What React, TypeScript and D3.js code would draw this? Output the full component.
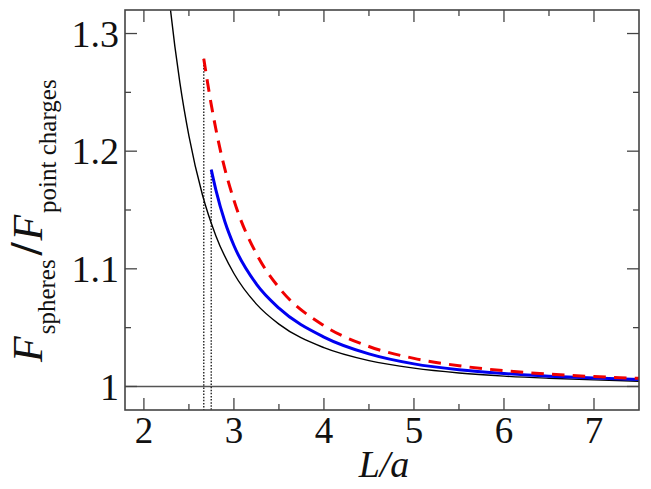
import React from 'react';
import * as d3 from 'd3';

// curves (L/a -> F_spheres / F_point charges)
const blackL = [2.25, 2.297, 2.4, 2.5, 2.65, 2.8, 3.0, 3.25, 3.5, 4.0, 4.5, 5.0, 5.5, 6.0, 6.5, 7.0, 7.5];
const blackRatio = [1.354, 1.319, 1.258, 1.213, 1.163, 1.128, 1.096, 1.070, 1.053, 1.033, 1.022, 1.0156, 1.0115, 1.0088, 1.0070, 1.0056, 1.0044];

const blueL = [2.748, 2.8, 2.9, 3.0, 3.25, 3.5, 4.0, 4.5, 5.0, 5.5, 6.0, 6.5, 7.0, 7.5];
const blueRatio = [1.1843, 1.1669, 1.14, 1.1198, 1.087, 1.0666, 1.042, 1.0277, 1.0192, 1.0142, 1.011, 1.0087, 1.0071, 1.0059];

const redL = [2.665, 2.75, 2.85, 3.0, 3.25, 3.5, 4.0, 4.5, 5.0, 5.5, 6.0, 6.5, 7.0, 7.5];
const redRatio = [1.2785, 1.2388, 1.2005, 1.1583, 1.1127, 1.0841, 1.0517, 1.034, 1.0239, 1.0176, 1.0134, 1.0105, 1.0084, 1.0069];

const xTicks = [2, 3, 4, 5, 6, 7];
const xMinor = [2.5, 3.5, 4.5, 5.5, 6.5];
const yTicks = [1, 1.1, 1.2, 1.3];
const yMinor = [1.05, 1.15, 1.25];

const W = 651;
const H = 489;
const left = 125, right = 639, top = 10, bottom = 410;
const serif = { fontFamily: 'Liberation Serif, Times New Roman, serif' };

const App = () => {
  const x = d3.scaleLinear().domain([1.79, 7.5]).range([left, right]);
  const y = d3.scaleLinear().domain([0.98, 1.32]).range([bottom, top]);

  const line = (xs: number[], ys: number[]) =>
    d3.line<number>()
      .x((d, i) => x(xs[i]))
      .y((d) => y(d))
      .curve(d3.curveMonotoneX)(ys) || '';

  const frame = '#444';
  const majorLen = 12, minorLen = 6;

  return (
    <svg width={W} height={H} style={{ position: 'absolute', left: 0, top: 0, background: '#fff' }}>
      <defs>
        <clipPath id="plotClip">
          <rect x={left} y={top} width={right - left} height={bottom - top} />
        </clipPath>
      </defs>

      {/* y = 1 reference line */}
      <line x1={left} x2={right} y1={y(1)} y2={y(1)} stroke="#555" strokeWidth={1.5} />

      {/* dotted markers at the start of the sphere curves */}
      <line x1={x(redL[0])} x2={x(redL[0])} y1={y(redRatio[0])} y2={bottom}
        stroke="#222" strokeWidth={1.4} strokeDasharray="1.5 1.6" />
      <line x1={x(blueL[0])} x2={x(blueL[0])} y1={y(blueRatio[0])} y2={bottom}
        stroke="#222" strokeWidth={1.4} strokeDasharray="1.5 1.6" />

      <g clipPath="url(#plotClip)">
        <path d={line(blackL, blackRatio)} fill="none" stroke="#000" strokeWidth={1.4} />
        <path d={line(blueL, blueRatio)} fill="none" stroke="#0000f0" strokeWidth={3} />
        <path d={line(redL, redRatio)} fill="none" stroke="#f00000" strokeWidth={3}
          strokeDasharray="12.5 8.2" />
      </g>

      {/* ticks */}
      {xTicks.map(t => (
        <g key={'xt' + t}>
          <line x1={x(t)} x2={x(t)} y1={bottom} y2={bottom - majorLen} stroke={frame} strokeWidth={1.3} />
          <line x1={x(t)} x2={x(t)} y1={top} y2={top + majorLen} stroke={frame} strokeWidth={1.3} />
          <text x={x(t)} y={443} textAnchor="middle" style={serif} fontSize={37} fill="#111">{t}</text>
        </g>
      ))}
      {xMinor.map(t => (
        <g key={'xm' + t}>
          <line x1={x(t)} x2={x(t)} y1={bottom} y2={bottom - minorLen} stroke={frame} strokeWidth={1.3} />
          <line x1={x(t)} x2={x(t)} y1={top} y2={top + minorLen} stroke={frame} strokeWidth={1.3} />
        </g>
      ))}
      {yTicks.map(t => (
        <g key={'yt' + t}>
          <line x1={left} x2={left + majorLen} y1={y(t)} y2={y(t)} stroke={frame} strokeWidth={1.3} />
          <line x1={right} x2={right - majorLen} y1={y(t)} y2={y(t)} stroke={frame} strokeWidth={1.3} />
          <text x={119} y={y(t)} dy="0.35em" textAnchor="end" style={serif} fontSize={38} fill="#111">
            {d3.format('~g')(t)}
          </text>
        </g>
      ))}
      {yMinor.map(t => (
        <g key={'ym' + t}>
          <line x1={left} x2={left + minorLen} y1={y(t)} y2={y(t)} stroke={frame} strokeWidth={1.3} />
          <line x1={right} x2={right - minorLen} y1={y(t)} y2={y(t)} stroke={frame} strokeWidth={1.3} />
        </g>
      ))}

      <rect x={left} y={top} width={right - left} height={bottom - top} fill="none" stroke={frame} strokeWidth={1.6} />

      {/* axis titles */}
      <text x={384} y={477} textAnchor="middle" style={serif} fontSize={38} fontStyle="italic" fill="#111">L/a</text>

      <text transform="translate(42,362) rotate(-90)" style={serif} fill="#111">
        <tspan fontSize={42} fontStyle="italic">F</tspan>
        <tspan fontSize={25} dy={13} dx={2}>spheres</tspan>
        <tspan fontSize={46} fontWeight="bold" dy={-13} dx={4}>/</tspan>
        <tspan fontSize={42} fontStyle="italic" dx={2}>F</tspan>
        <tspan fontSize={25} dy={14} dx={2}>point charges</tspan>
      </text>
    </svg>
  );
};

export default App;
